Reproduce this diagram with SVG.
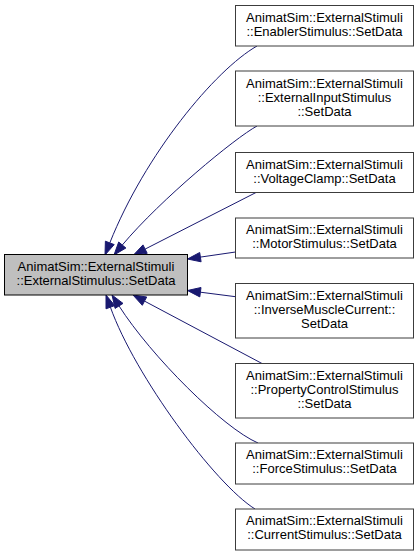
<svg xmlns="http://www.w3.org/2000/svg" width="420" height="556" viewBox="0 0 420 556">
<style>
.node rect{fill:#ffffff;stroke:#3c3c3c;stroke-width:1}
.node.main rect{fill:#bfbfbf;stroke:#000000}
.node text{font-family:"Liberation Sans",Arial,sans-serif;font-size:13px;fill:#000000;text-anchor:middle}
.edge path{fill:none;stroke:#191970;stroke-width:1}
.edge polygon{fill:#191970;stroke:#191970;stroke-width:1}
</style>
<rect x="0" y="0" width="420" height="556" fill="#ffffff"/>
<g id="edges">
<g class="edge"><path d="M257,46 C215,70 145,154.5 109.8,242.9"/><polygon points="105,255 114.2,244.6 105.4,241.2"/></g>
<g class="edge"><path d="M257,126 C235,138 161,199 122.3,245"/><polygon points="114,255 125.9,248 118.7,242"/></g>
<g class="edge"><path d="M256,192.5 L145.1,249.1"/><polygon points="133.5,255 147.2,253.3 143,244.9"/></g>
<g class="edge"><path d="M235.5,252 L200.4,257.1"/><polygon points="187.5,259 201.1,261.8 199.7,252.5"/></g>
<g class="edge"><path d="M235.5,296.7 L200.4,292.2"/><polygon points="187.5,290.5 201,287.5 199.8,296.9"/></g>
<g class="edge"><path d="M262,363.5 L144.5,301.1"/><polygon points="133,295 146.7,297 142.3,305.3"/></g>
<g class="edge"><path d="M258,443 C223,428 151,356 119,305.9"/><polygon points="112,295 123,303.4 115.1,308.4"/></g>
<g class="edge"><path d="M255,509 C215,484 135,376 110.4,307.2"/><polygon points="106,295 114.8,305.6 106,308.8"/></g>
</g>
<g id="node-main" class="node main">
<rect x="4.5" y="254.5" width="183" height="40.5"/>
<text x="96" y="270.7">AnimatSim::ExternalStimuli</text>
<text x="96" y="284.7">::ExternalStimulus::SetData</text>
</g>
<g id="node-enabler" class="node">
<rect x="235.5" y="5.5" width="178" height="40.5"/>
<text x="324.5" y="21.5">AnimatSim::ExternalStimuli</text>
<text x="324.5" y="35.5">::EnablerStimulus::SetData</text>
</g>
<g id="node-externalinput" class="node">
<rect x="235.5" y="71" width="178" height="55"/>
<text x="324.5" y="87.5">AnimatSim::ExternalStimuli</text>
<text x="324.5" y="101.5">::ExternalInputStimulus</text>
<text x="324.5" y="115.5">::SetData</text>
</g>
<g id="node-voltageclamp" class="node">
<rect x="235.5" y="152.5" width="178" height="40"/>
<text x="324.5" y="168.5">AnimatSim::ExternalStimuli</text>
<text x="324.5" y="182.5">::VoltageClamp::SetData</text>
</g>
<g id="node-motor" class="node">
<rect x="235.5" y="218" width="178" height="40"/>
<text x="324.5" y="234">AnimatSim::ExternalStimuli</text>
<text x="324.5" y="248">::MotorStimulus::SetData</text>
</g>
<g id="node-inversemuscle" class="node">
<rect x="235.5" y="283.5" width="178" height="54.5"/>
<text x="324.5" y="299.7">AnimatSim::ExternalStimuli</text>
<text x="324.5" y="313.7">::InverseMuscleCurrent::</text>
<text x="324.5" y="327.7">SetData</text>
</g>
<g id="node-propertycontrol" class="node">
<rect x="235.5" y="363.5" width="178" height="54.5"/>
<text x="324.5" y="379.7">AnimatSim::ExternalStimuli</text>
<text x="324.5" y="393.7">::PropertyControlStimulus</text>
<text x="324.5" y="407.7">::SetData</text>
</g>
<g id="node-force" class="node">
<rect x="235.5" y="443" width="178" height="41"/>
<text x="324.5" y="459.2">AnimatSim::ExternalStimuli</text>
<text x="324.5" y="473.2">::ForceStimulus::SetData</text>
</g>
<g id="node-current" class="node">
<rect x="235.5" y="509" width="178" height="41"/>
<text x="324.5" y="525.2">AnimatSim::ExternalStimuli</text>
<text x="324.5" y="539.2">::CurrentStimulus::SetData</text>
</g>
</svg>
